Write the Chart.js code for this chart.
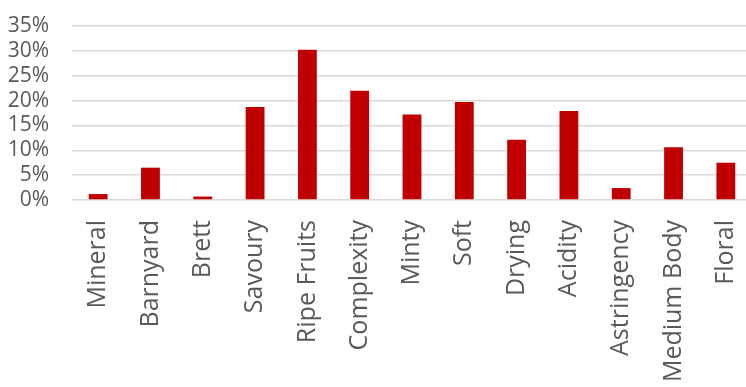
<!DOCTYPE html>
<html>
<head>
<meta charset="utf-8">
<script src="https://cdn.jsdelivr.net/npm/chart.js@4"></script>
<style>
  html, body { margin: 0; padding: 0; overflow: hidden; background: #fff; }
  #wrap { width: 752px; height: 387px; }
</style>
</head>
<body>
<div id="wrap"><canvas id="myChart"></canvas></div>
<script>
const categories = ["Mineral", "Barnyard", "Brett", "Savoury", "Ripe Fruits", "Complexity", "Minty", "Soft", "Drying", "Acidity", "Astringency", "Medium Body", "Floral"];
const shares = [1.2, 6.5, 0.7, 18.7, 30.2, 22.0, 17.2, 19.7, 12.1, 17.9, 2.4, 10.6, 7.5];
const yTicks = [0, 5, 10, 15, 20, 25, 30, 35];

document.addEventListener("DOMContentLoaded", function () {
    const ctx = document.getElementById("myChart");

    new Chart(ctx, {
        type: "bar",
        data: {
            labels: categories,
            datasets: [
                {
                    label: "Share",
                    data: shares,
                    backgroundColor: "#C00000",
                    barPercentage: 0.36,
                    categoryPercentage: 1,
                },
            ],
        },
        options: {
            responsive: true,
            maintainAspectRatio: false,
            animation: false,
            layout: { padding: { top: 26, right: 0, left: 0, bottom: 0 } },
            plugins: {
                legend: { display: false },
                tooltip: { enabled: false },
            },
            scales: {
                x: {
                    grid: { display: false, drawTicks: false },
                    border: { display: false },
                    ticks: {
                        autoSkip: false,
                        maxRotation: 90,
                        minRotation: 90,
                        padding: 20,
                        color: "#595959",
                        font: { family: "Open Sans", size: 25 },
                    },
                    afterFit: function (scale) {
                        scale.height = 187;
                        scale.paddingLeft = 0;
                        scale.paddingRight = 0;
                    },
                },
                y: {
                    min: yTicks[0],
                    max: yTicks[yTicks.length - 1],
                    grid: { color: "#d9d9d9", lineWidth: 1.5, drawTicks: false },
                    border: { display: false },
                    ticks: {
                        stepSize: 5,
                        autoSkip: false,
                        padding: 23,
                        color: "#595959",
                        font: { family: "Open Sans", size: 21 },
                        callback: function (v) { return v + "%"; },
                    },
                    afterFit: function (scale) {
                        scale.width = 72;
                        scale.paddingTop = 0;
                        scale.paddingBottom = 0;
                    },
                },
            },
        },
    });
});
</script>
</body>
</html>
